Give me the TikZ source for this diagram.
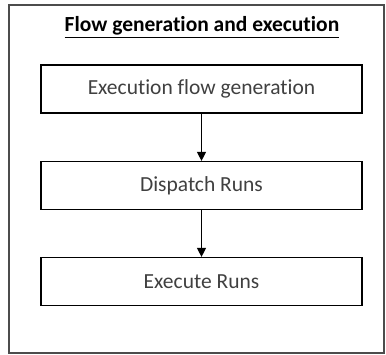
\documentclass[tikz,border=0pt]{standalone}
\usepackage{fontspec}
\setmainfont{Carlito}[Ligatures=NoCommon]
\usetikzlibrary{arrows.meta}
\begin{document}
\begin{tikzpicture}[x=1pt,y=-1pt,
  stepbox/.style={draw=black, line width=1.2pt, minimum width=321pt, minimum height=48pt,
    inner sep=0pt, font=\fontsize{21.5}{24}\selectfont, text=black!75},
  flow/.style={draw=black, line width=1.2pt, -{Triangle[length=9pt,width=9pt]}}]
  \useasboundingbox (0,0) rectangle (386,354);
  % outer frame
  \draw[draw=black!70, line width=1.1pt] (9,5) rectangle (384,353);
  % title
  \node (title) at (202,27) {\fontsize{21.5}{24}\selectfont\bfseries\underline{Flow generation and execution}};
  % steps
  \node[stepbox] (gen) at (201.5,89) {Execution flow generation};
  \node[stepbox] (disp) at (201.5,185.5) {Dispatch Runs};
  \node[stepbox] (exec) at (201.5,281.5) {Execute Runs};
  \draw[flow] (gen) -- (disp);
  \draw[flow] (disp) -- (exec);
\end{tikzpicture}
\end{document}
